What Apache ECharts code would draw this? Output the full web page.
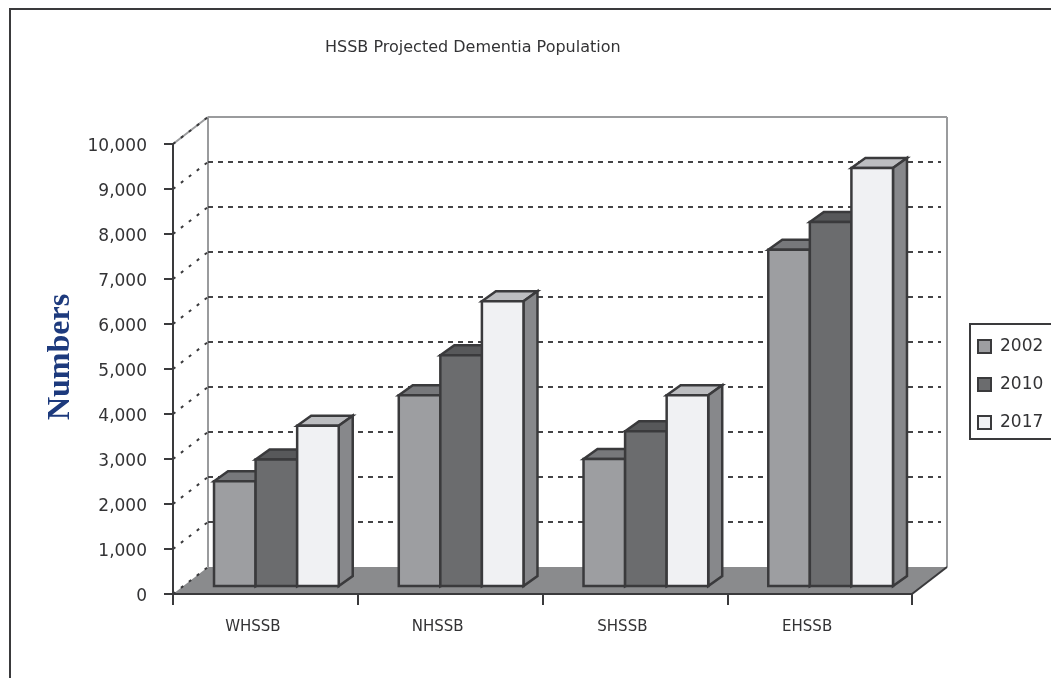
<!DOCTYPE html>
<html>
<head>
<meta charset="utf-8">
<style>
    html, body { margin: 0; padding: 0; background: #fff; }
    #chart { width: 1051px; height: 678px; }
</style>
<script src="https://cdn.jsdelivr.net/npm/echarts@6/dist/echarts.min.js"></script>
</head>
<body>
<div id="chart"></div>
<script>
var categories = ["WHSSB", "NHSSB", "SHSSB", "EHSSB"]
var years = ["2002", "2010", "2017"]
var values2002 = [2330, 4240, 2820, 7470]
var values2010 = [2810, 5130, 3440, 8090]
var values2017 = [3560, 6330, 4240, 9290]
var yTicks = [0, 1000, 2000, 3000, 4000, 5000, 6000, 7000, 8000, 9000, 10000]

// front, top and side colours of each year's bars
var barColors = [
    { front: "#9d9ea1", top: "#77787b", side: "#77787b" },
    { front: "#6b6c6e", top: "#57585a", side: "#57585a" },
    { front: "#f0f1f3", top: "#bcbdc0", side: "#87888b" }
]

var lineColor = "#3a3a3c"
var textColor = "#333335"
var wallColor = "#9a9b9d"

// how far the back wall and the bars are pushed into the picture
var wallDepth = { x: 35, y: -27 }
var barDepth = { x: 14, y: -10 }
var barShift = { x: 11, y: -8 }
var barShare = 0.225

var chart = echarts.init(document.getElementById("chart"))

var line = function (x1, y1, x2, y2, style) {
    return { type: "line", shape: { x1: x1, y1: y1, x2: x2, y2: y2 }, style: style, silent: true }
}

var poly = function (points, fill) {
    return {
        type: "polygon",
        shape: { points: points },
        style: { fill: fill, stroke: lineColor, lineWidth: 2.5, lineJoin: "miter" },
        silent: true
    }
}

var renderRoom = function (params, api) {
    var cs = params.coordSys
    var dx = wallDepth.x
    var dy = wallDepth.y
    var left = cs.x
    var right = cs.x + cs.width
    var bottom = cs.y + cs.height
    var top = cs.y
    var wall = { stroke: wallColor, lineWidth: 2 }
    return {
        type: "group",
        children: [
            line(left + dx, top + dy, right + dx, top + dy, wall),
            line(left + dx, top + dy, left + dx, bottom + dy, wall),
            line(right + dx, top + dy, right + dx, bottom + dy, wall),
            {
                type: "polygon",
                shape: { points: [[left, bottom], [left + dx, bottom + dy], [right + dx, bottom + dy], [right, bottom]] },
                style: { fill: "#8a8b8d" },
                silent: true
            },
            line(right, bottom, right + dx, bottom + dy, { stroke: lineColor, lineWidth: 2 })
        ]
    }
}

var renderGrid = function (params, api) {
    var v = api.value(1)
    var p = api.coord([0, v])
    var cs = params.coordSys
    var dx = wallDepth.x
    var dy = wallDepth.y
    var children = []
    if (v === 10000) {
        children.push(line(cs.x, p[1], cs.x + dx, p[1] + dy, { stroke: wallColor, lineWidth: 2 }))
    }
    children.push(line(cs.x, p[1], cs.x + dx, p[1] + dy, { stroke: "#3a3a3c", lineWidth: 2, lineDash: [3, 7] }))
    if (v > 0 && v < 10000) {
        children.push(line(cs.x + dx, p[1] + dy, cs.x + cs.width + dx - 6, p[1] + dy, { stroke: "#444446", lineWidth: 2, lineDash: [5, 5] }))
    }
    return { type: "group", children: children }
}

var renderBar = function (yearIndex) {
    return function (params, api) {
        var top = api.coord([api.value(0), api.value(1)])
        var base = api.coord([api.value(0), 0])
        var w = api.size([1, 0])[0] * barShare
        var c = barColors[yearIndex]
        var x1 = top[0] + (yearIndex - 1.5) * w + barShift.x
        var x2 = x1 + w
        var y1 = top[1] + barShift.y
        var y2 = base[1] + barShift.y
        var dx = barDepth.x
        var dy = barDepth.y
        return {
            type: "group",
            children: [
                poly([[x1, y1], [x1 + dx, y1 + dy], [x2 + dx, y1 + dy], [x2, y1]], c.top),
                poly([[x2, y1], [x2 + dx, y1 + dy], [x2 + dx, y2 + dy], [x2, y2]], c.side),
                poly([[x1, y1], [x2, y1], [x2, y2], [x1, y2]], c.front)
            ]
        }
    }
}

var toPoints = function (arr) {
    return arr.map(function (v, i) {
        return [i, v]
    })
}

var barSeries = [values2002, values2010, values2017].map(function (arr, i) {
    return {
        name: years[i],
        type: "custom",
        renderItem: renderBar(i),
        data: toPoints(arr),
        encode: { x: 0, y: 1 },
        itemStyle: { color: barColors[i].front, borderColor: lineColor, borderWidth: 2 },
        z: 4
    }
})

var option = {
    animation: false,
    backgroundColor: "#fff",
    title: {
        text: "HSSB Projected Dementia Population",
        left: 320,
        top: 35,
        textStyle: { fontFamily: "DejaVu Sans", fontSize: 16, fontWeight: "normal", color: textColor }
    },
    legend: {
        data: years,
        orient: "vertical",
        left: 970,
        top: 324,
        padding: [14, 30, 8, 7],
        itemWidth: 13,
        itemHeight: 13,
        itemGap: 21,
        icon: "rect",
        borderColor: lineColor,
        borderWidth: 2,
        backgroundColor: "#fff",
        textStyle: { fontFamily: "DejaVu Sans", fontSize: 17, color: textColor, padding: [0, 0, 0, 4] }
    },
    grid: { left: 173, right: 139, top: 144, bottom: 84 },
    xAxis: {
        type: "category",
        data: categories,
        z: 5,
        axisLine: { lineStyle: { color: lineColor, width: 2 } },
        axisTick: { show: true, alignWithLabel: false, length: 11, lineStyle: { color: lineColor, width: 2 } },
        axisLabel: {
            margin: 26,
            padding: [0, 25, 0, 0],
            fontFamily: "DejaVu Sans",
            fontSize: 15,
            color: textColor
        }
    },
    yAxis: {
        type: "value",
        min: 0,
        max: 10000,
        interval: 1000,
        z: 5,
        name: "Numbers",
        nameLocation: "middle",
        nameGap: 95,
        nameRotate: 90,
        nameTextStyle: {
            fontFamily: "Liberation Serif",
            fontSize: 32,
            fontWeight: "bold",
            color: "#1d3a7d",
            padding: [0, 0, 0, 24]
        },
        splitLine: { show: false },
        axisLine: { show: true, lineStyle: { color: lineColor, width: 2 } },
        axisTick: { show: true, length: 9, lineStyle: { color: lineColor, width: 2 } },
        axisLabel: {
            margin: 26,
            verticalAlign: "top",
            lineHeight: 6,
            fontFamily: "DejaVu Sans",
            fontSize: 17,
            color: textColor,
            formatter: function (v) {
                return v.toLocaleString("en-US")
            }
        }
    },
    graphic: [{
        type: "rect",
        shape: { x: 10, y: 9, width: 1100, height: 800 },
        style: { fill: "none", stroke: lineColor, lineWidth: 2 },
        silent: true
    }],
    series: [
        { name: "room", type: "custom", renderItem: renderRoom, data: [[0, 0]], encode: { x: 0, y: 1 }, z: 1 },
        { name: "grid", type: "custom", renderItem: renderGrid, data: yTicks.map(function (v) { return [0, v] }), encode: { x: 0, y: 1 }, z: 2 }
    ].concat(barSeries)
}

chart.setOption(option)
</script>
</body>
</html>
